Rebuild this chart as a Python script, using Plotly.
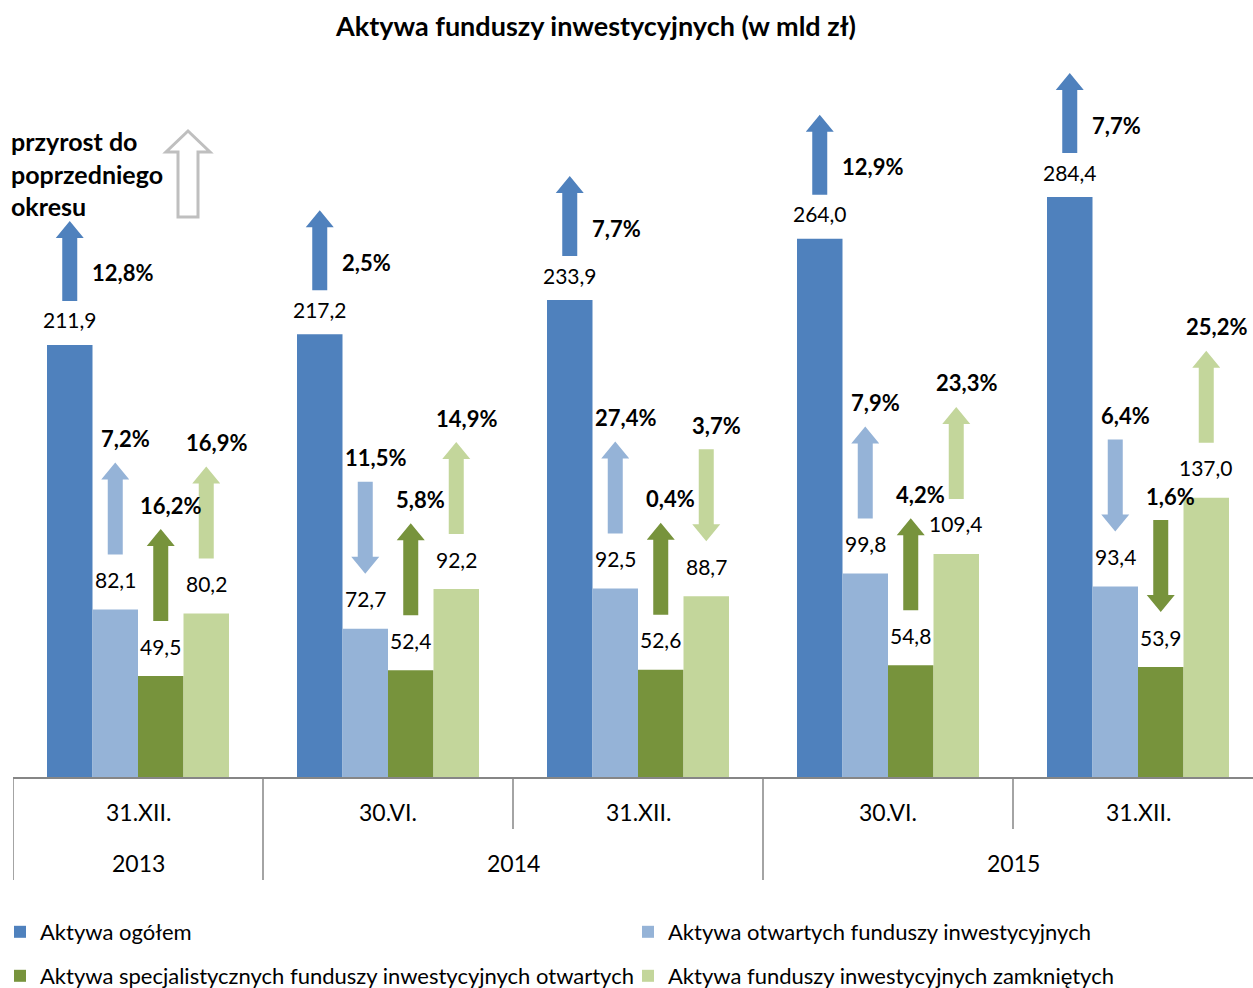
import plotly.graph_objects as go

# ---------------- data ----------------
title = "Aktywa funduszy inwestycyjnych (w mld zł)"
dates = ["31.XII.", "30.VI.", "31.XII.", "30.VI.", "31.XII."]
years = ["2013", "2014", "2015"]
year_groups = [[0], [1, 2], [3, 4]]
series_names = [
    "Aktywa ogółem",
    "Aktywa otwartych funduszy inwestycyjnych",
    "Aktywa specjalistycznych funduszy inwestycyjnych otwartych",
    "Aktywa funduszy inwestycyjnych zamkniętych",
]
total = [211.9, 217.2, 233.9, 264.0, 284.4]
open_funds = [82.1, 72.7, 92.5, 99.8, 93.4]
spec_funds = [49.5, 52.4, 52.6, 54.8, 53.9]
closed_funds = [80.2, 92.2, 88.7, 109.4, 137.0]
growth_total = [12.8, 2.5, 7.7, 12.9, 7.7]
growth_open = [7.2, -11.5, 27.4, 7.9, -6.4]
growth_spec = [16.2, 5.8, 0.4, 4.2, -1.6]
growth_closed = [16.9, 14.9, -3.7, 23.3, 25.2]
note_text = "przyrost do<br>poprzedniego<br>okresu"

values = [total, open_funds, spec_funds, closed_funds]
growths = [growth_total, growth_open, growth_spec, growth_closed]
colors = ["#4F81BD", "#95B3D7", "#77933C", "#C3D69B"]

# ---------------- layout geometry ----------------
W, H = 1253, 988
L, R, T, B = 13, 0, 60, 211
PW, PH = W - L - R, H - T - B
XR = [-0.5, 4.46]
YR = [0, PH / 2.039]
xu = (XR[1] - XR[0]) / PW   # data units per px (x)
yu = (YR[1] - YR[0]) / PH   # data units per px (y)
BARGAP = 0.272
BW = (1 - BARGAP) / 4
FONT = "Lato"
GRAY = "#868686"
LEGEND_POS = [(0, 932), (628, 932), (0, 976), (628, 976)]


def fmt(v):
    return f"{abs(v):.1f}".replace(".", ",")


def px_x(px):
    return (px - L) / PW


def px_y(py):
    return (H - B - py) / PH


legend_ids = ["legend", "legend2", "legend3", "legend4"]

fig = go.Figure()
xs = list(range(len(dates)))
for k in range(4):
    fig.add_trace(go.Bar(
        x=xs, y=values[k], name=series_names[k], marker_color=colors[k],
        marker_line_width=0, legend=legend_ids[k], showlegend=True,
    ))

shapes = []
annotations = []

# value labels, growth arrows, growth labels
for k in range(4):
    off = (k - 1.5) * BW
    lab_shift = 25 if k == 0 else 30
    base_gap = 44 if k == 0 else 55
    length = 80 if k == 0 else 92
    for i, v in enumerate(values[k]):
        xc = i + off
        annotations.append(dict(
            x=xc, y=v, xref="x", yref="y", text=fmt(v), showarrow=False,
            yshift=lab_shift, font=dict(family=FONT, size=21, color="#000"),
        ))
        g = growths[k][i]
        yb = v + base_gap * yu
        yt = yb + length * yu
        sw, hw, hh = 7.5 * xu, 14 * xu, 17 * yu
        if g >= 0:
            path = (f"M{xc-sw},{yb} L{xc+sw},{yb} L{xc+sw},{yt-hh} L{xc+hw},{yt-hh} "
                    f"L{xc},{yt} L{xc-hw},{yt-hh} L{xc-sw},{yt-hh} Z")
        else:
            path = (f"M{xc-sw},{yt} L{xc+sw},{yt} L{xc+sw},{yb+hh} L{xc+hw},{yb+hh} "
                    f"L{xc},{yb} L{xc-hw},{yb+hh} L{xc-sw},{yb+hh} Z")
        shapes.append(dict(type="path", path=path, xref="x", yref="y",
                           fillcolor=colors[k], line=dict(width=0), layer="above"))
        if k == 0:
            annotations.append(dict(
                x=xc, y=yb, xref="x", yref="y", text=f"<b>{fmt(g)}%</b>",
                showarrow=False, xanchor="left", xshift=20, yshift=28,
                font=dict(family=FONT, size=22, color="#000"),
            ))
        else:
            annotations.append(dict(
                x=xc, y=yt, xref="x", yref="y", text=f"<b>{fmt(g)}%</b>",
                showarrow=False, xshift=10, yshift=24,
                font=dict(family=FONT, size=22, color="#000"),
            ))

# category axis: date labels, year labels, dividers
for i, d in enumerate(dates):
    annotations.append(dict(
        x=i, y=px_y(812), xref="x", yref="paper", text=d, showarrow=False,
        xanchor="center", yanchor="middle",
        font=dict(family=FONT, size=23, color="#000"),
    ))
for yname, grp in zip(years, year_groups):
    annotations.append(dict(
        x=(grp[0] + grp[-1]) / 2, y=px_y(863), xref="x", yref="paper", text=yname,
        showarrow=False, xanchor="center", yanchor="middle",
        font=dict(family=FONT, size=23, color="#000"),
    ))
outer = {-0.5} | {grp[-1] + 0.5 for grp in year_groups}
for j in range(len(dates) + 1):
    xb = j - 0.5
    y_end = px_y(880) if xb in outer else px_y(829)
    shapes.append(dict(type="line", xref="x", yref="paper", x0=xb, x1=xb,
                       y0=0, y1=y_end, line=dict(color=GRAY, width=1.5)))

# note with hollow arrow
annotations.append(dict(
    x=px_x(9), y=px_y(173), xref="paper", yref="paper", text=f"<b>{note_text}</b>",
    showarrow=False, xanchor="left", yanchor="middle", align="left",
    font=dict(family=FONT, size=25, color="#000"),
))
cx, top, hb, bot = 188, 131, 152, 217
sw, hw = 10, 22
pts = [(cx - sw, bot), (cx + sw, bot), (cx + sw, hb), (cx + hw, hb), (cx, top),
       (cx - hw, hb), (cx - sw, hb)]
path = "M" + " L".join(f"{px_x(a)},{px_y(b)}" for a, b in pts) + " Z"
shapes.append(dict(type="path", path=path, xref="paper", yref="paper",
                   fillcolor="white", line=dict(color="#BFBFBF", width=3)))

legends = {}
for lid, (lx, ly) in zip(legend_ids, LEGEND_POS):
    legends[lid] = dict(
        x=px_x(lx), y=px_y(ly), orientation="h", xref="paper", yref="paper",
        xanchor="left", yanchor="middle", font=dict(family=FONT, size=22, color="#000"),
        bgcolor="rgba(0,0,0,0)", itemwidth=30, visible=True,
    )

fig.update_layout(
    width=W, height=H, showlegend=True,
    margin=dict(l=L, r=R, t=T, b=B, autoexpand=False),
    paper_bgcolor="white", plot_bgcolor="white",
    title=dict(text=f"<b>{title}</b>", x=596 / W, xanchor="center", y=1 - 27 / H,
               yanchor="middle", font=dict(family=FONT, size=27, color="#000")),
    barmode="group", bargap=BARGAP, bargroupgap=0,
    xaxis=dict(range=XR, showticklabels=False, showgrid=False, zeroline=False,
               showline=True, linecolor=GRAY, linewidth=1.5, ticks=""),
    yaxis=dict(range=YR, visible=False, showgrid=False, zeroline=False),
    shapes=shapes, annotations=annotations,
    font=dict(family=FONT),
    **legends,
)

fig.write_html("out.html")
